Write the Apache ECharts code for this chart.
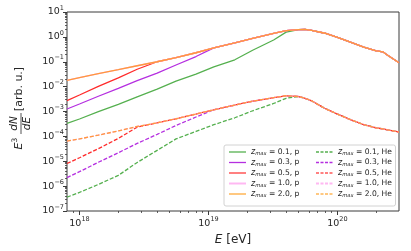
<!DOCTYPE html>
<html><head><meta charset="utf-8">
<script src="https://cdn.jsdelivr.net/npm/echarts@6/dist/echarts.min.js"></script>
<style>html,body{margin:0;padding:0;background:#fff}#c{width:411px;height:251px}</style>
</head><body><div id="c"></div>
<script>
// Energy grid [eV]
const E_EV = [8e17, 1e18, 1.4e18, 2e18, 2.8e18, 4e18, 5.6e18, 8e18, 1.1e19, 1.6e19, 2.2e19, 3.2e19, 4e19, 5e19, 5.6e19, 6.3e19, 8e19, 1e20, 1.26e20, 1.6e20, 2e20, 2.25e20, 2.4e20, 3e20];
// protons
const P_01 = [3.3e-4, 5.0e-4, 9.8e-4, 1.95e-3, 3.9e-3, 7.9e-3, 1.66e-2, 3.2e-2, 6.2e-2, 0.12, 0.29, 0.75, 1.55, 1.95, 2.0, 1.82, 1.4, 0.955, 0.61, 0.39, 0.275, 0.25, 0.195, 0.091];
const P_03 = [1.26e-3, 2.0e-3, 4.1e-3, 8.5e-3, 1.74e-2, 3.5e-2, 7.4e-2, 0.162, 0.36, 0.575, 0.87, 1.38, 1.78, 1.95, 2.0, 1.82, 1.4, 0.955, 0.61, 0.39, 0.275, 0.25, 0.195, 0.091];
const P_05 = [2.75e-3, 4.6e-3, 1.02e-2, 2.24e-2, 5.0e-2, 0.10, 0.148, 0.23, 0.36, 0.575, 0.87, 1.38, 1.78, 1.95, 2.0, 1.82, 1.4, 0.955, 0.61, 0.39, 0.275, 0.25, 0.195, 0.091];
const P_10 = [1.8e-2, 2.3e-2, 3.3e-2, 4.8e-2, 6.9e-2, 0.10, 0.148, 0.23, 0.36, 0.575, 0.87, 1.38, 1.78, 1.95, 2.0, 1.82, 1.4, 0.955, 0.61, 0.39, 0.275, 0.25, 0.195, 0.091];
const P_20 = [1.8e-2, 2.3e-2, 3.3e-2, 4.8e-2, 6.9e-2, 0.10, 0.148, 0.23, 0.36, 0.575, 0.87, 1.38, 1.78, 1.95, 2.0, 1.82, 1.4, 0.955, 0.61, 0.39, 0.275, 0.25, 0.195, 0.091];
// helium
const HE_01 = [3.6e-7, 5.6e-7, 1.17e-6, 2.7e-6, 8.9e-6, 2.75e-5, 7.9e-5, 1.58e-4, 2.95e-4, 5.6e-4, 1.07e-3, 2.1e-3, 3.4e-3, 4.0e-3, 3.4e-3, 2.7e-3, 1.32e-3, 7.9e-4, 4.7e-4, 2.95e-4, 2.2e-4, 2.0e-4, 1.86e-4, 1.5e-4];
const HE_03 = [2.2e-6, 3.8e-6, 9.1e-6, 2.2e-5, 5.2e-5, 1.2e-4, 2.75e-4, 6.0e-4, 1.17e-3, 1.82e-3, 2.6e-3, 3.6e-3, 4.3e-3, 4.0e-3, 3.4e-3, 2.7e-3, 1.32e-3, 7.9e-4, 4.7e-4, 2.95e-4, 2.2e-4, 2.0e-4, 1.86e-4, 1.5e-4];
const HE_05 = [8.1e-6, 1.38e-5, 3.2e-5, 8.3e-5, 2.35e-4, 3.5e-4, 5.1e-4, 7.9e-4, 1.17e-3, 1.82e-3, 2.6e-3, 3.6e-3, 4.3e-3, 4.0e-3, 3.4e-3, 2.7e-3, 1.32e-3, 7.9e-4, 4.7e-4, 2.95e-4, 2.2e-4, 2.0e-4, 1.86e-4, 1.5e-4];
const HE_10 = [6.5e-5, 7.9e-5, 1.12e-4, 1.66e-4, 2.5e-4, 3.5e-4, 5.1e-4, 7.9e-4, 1.17e-3, 1.82e-3, 2.6e-3, 3.6e-3, 4.3e-3, 4.0e-3, 3.4e-3, 2.7e-3, 1.32e-3, 7.9e-4, 4.7e-4, 2.95e-4, 2.2e-4, 2.0e-4, 1.86e-4, 1.5e-4];
const HE_20 = [6.5e-5, 7.9e-5, 1.12e-4, 1.66e-4, 2.5e-4, 3.5e-4, 5.1e-4, 7.9e-4, 1.17e-3, 1.82e-3, 2.6e-3, 3.6e-3, 4.3e-3, 4.0e-3, 3.4e-3, 2.7e-3, 1.32e-3, 7.9e-4, 4.7e-4, 2.95e-4, 2.2e-4, 2.0e-4, 1.86e-4, 1.5e-4];

const Z_LABELS = ['0.1', '0.3', '0.5', '1.0', '2.0'];
const X_MAJOR = [1e18, 1e19, 1e20];
const X_MINOR = [9e17, 2e18, 3e18, 4e18, 5e18, 6e18, 7e18, 8e18, 9e18, 2e19, 3e19, 4e19, 5e19, 6e19, 7e19, 8e19, 9e19, 2e20];
const Y_MAJOR = [1e-7, 1e-6, 1e-5, 1e-4, 1e-3, 1e-2, 1e-1, 1, 10];
const Y_MINOR = [];
for (let e = -7; e < 1; e++) for (let m = 2; m <= 9; m++) Y_MINOR.push(m * Math.pow(10, e));

const COLORS = ['#55b04f', '#b52fe0', '#ff2b2b', '#ffa6ef', '#ff9a3a'];
const LEG_COLORS = ['#55b04f', '#b52fe0', '#ff8080', '#ffb8f2', '#ffc880'];
const P_SETS = [P_01, P_03, P_05, P_10, P_20];
const HE_SETS = [HE_01, HE_03, HE_05, HE_10, HE_20];

const FONT = 'DejaVu Sans';
const TXT = '#262626';
const NOSYM = { color: 'rgba(0,0,0,0)', borderColor: 'rgba(0,0,0,0)', borderWidth: 0, opacity: 0 };

function pairs(arr) { return E_EV.map((e, i) => [e, arr[i]]); }
function pow10Label(v) {
  const e = Math.round(Math.log10(v));
  return '{b|10}{p|' + (e < 0 ? '\u2212' + (-e) : String(e)) + '}';
}
const tickRich = {
  b: { fontFamily: FONT, fontSize: 9.5, color: TXT, lineHeight: 15 },
  p: { fontFamily: FONT, fontSize: 6.5, color: TXT, verticalAlign: 'top', lineHeight: 8 }
};

const series = [];
const pNames = [], heNames = [];
Z_LABELS.forEach((z, k) => {
  const nm = z + ', p';
  pNames.push({ name: nm, itemStyle: NOSYM, lineStyle: { color: LEG_COLORS[k], width: k >= 2 ? 2 : 1.3, type: 'solid' } });
  series.push({ name: nm, type: 'line', data: pairs(P_SETS[k]), showSymbol: false, symbol: 'none',
    lineStyle: { color: COLORS[k], width: 1.3 }, itemStyle: { color: COLORS[k] }, z: 2 });
});
Z_LABELS.forEach((z, k) => {
  const nm = z + ', He';
  heNames.push({ name: nm, itemStyle: NOSYM, lineStyle: { color: LEG_COLORS[k], width: k >= 2 ? 2 : 1.3, type: [3, 1.5] } });
  series.push({ name: nm, type: 'line', data: pairs(HE_SETS[k]), showSymbol: false, symbol: 'none',
    lineStyle: { color: COLORS[k], width: 1.3, type: [4, 1.8] }, itemStyle: { color: COLORS[k] }, z: 2 });
});

const legRich = {
  z: { fontFamily: FONT, fontStyle: 'italic', fontSize: 8, color: TXT, lineHeight: 9 },
  s: { fontFamily: FONT, fontStyle: 'italic', fontSize: 5.2, color: TXT, verticalAlign: 'bottom', lineHeight: 6 },
  t: { fontFamily: FONT, fontSize: 7.6, color: TXT, lineHeight: 9 }
};
function legFmt(n) { return '{z|z}{s|max}{t| = ' + n + '}'; }
function legend(data, left) {
  return { data: data, orient: 'vertical', left: left, top: 148, padding: 0, itemGap: 2,
    itemWidth: 17, itemHeight: 9, selectedMode: false, formatter: legFmt,
    textStyle: { fontFamily: FONT, fontSize: 7.6, color: TXT, rich: legRich }, z: 10 };
}

const chart = echarts.init(document.getElementById('c'), null, { renderer: 'canvas' });
chart.setOption({
  animation: false,
  backgroundColor: '#fff',
  grid: { left: 67, right: 12, top: 12, bottom: 40, show: true, borderColor: '#3a3a3a', borderWidth: 1, backgroundColor: 'transparent' },
  xAxis: [
    { type: 'log', logBase: 10, min: 8e17, max: 3e20, position: 'bottom',
      axisLine: { show: false }, splitLine: { show: false },
      axisTick: { show: true, length: 4, customValues: X_MAJOR, lineStyle: { color: '#3a3a3a', width: 1 } },
      axisLabel: { customValues: X_MAJOR, formatter: pow10Label, rich: tickRich, margin: 5 },
      name: '{i|E} [eV]', nameLocation: 'middle', nameGap: 20,
      nameTextStyle: { fontFamily: FONT, fontSize: 12, color: TXT, rich: { i: { fontFamily: FONT, fontStyle: 'italic', fontSize: 12, color: TXT } } } },
    { type: 'log', logBase: 10, min: 8e17, max: 3e20, position: 'bottom', gridIndex: 0,
      axisLine: { show: false }, splitLine: { show: false }, axisLabel: { show: false },
      axisTick: { show: true, length: 2, customValues: X_MINOR, lineStyle: { color: '#3a3a3a', width: 0.8 } } }
  ],
  yAxis: [
    { type: 'log', logBase: 10, min: 1e-7, max: 10, position: 'left',
      axisLine: { show: false }, splitLine: { show: false },
      axisTick: { show: true, length: 4, customValues: Y_MAJOR, lineStyle: { color: '#3a3a3a', width: 1 } },
      axisLabel: { customValues: Y_MAJOR, formatter: pow10Label, rich: tickRich, margin: 3 } },
    { type: 'log', logBase: 10, min: 1e-7, max: 10, position: 'left', gridIndex: 0,
      axisLine: { show: false }, splitLine: { show: false }, axisLabel: { show: false },
      axisTick: { show: true, length: 2, customValues: Y_MINOR, lineStyle: { color: '#3a3a3a', width: 0.8 } } }
  ],
  legend: [legend(pNames, 228), legend(heNames, 315)],
  graphic: [
    { type: 'rect', z: 5, shape: { x: 224, y: 145, width: 171.5, height: 61, r: 2 },
      style: { fill: 'rgba(255,255,255,0.85)', stroke: '#d2d2d2', lineWidth: 1 } },
    { type: 'group', x: 0, y: 0, rotation: Math.PI / 2, z: 5, children: [
      { type: 'text', x: -146, y: 19, style: { text: 'E', font: 'italic 11px "DejaVu Sans"', fill: TXT, align: 'center', verticalAlign: 'middle' } },
      { type: 'text', x: -140, y: 15.5, style: { text: '3', font: '7.5px "DejaVu Sans"', fill: TXT, align: 'center', verticalAlign: 'middle' } },
      { type: 'text', x: -123.5, y: 14.5, style: { text: 'dN', font: 'italic 10.5px "DejaVu Sans"', fill: TXT, align: 'center', verticalAlign: 'middle' } },
      { type: 'line', shape: { x1: -134, y1: 21, x2: -113, y2: 21 }, style: { stroke: TXT, lineWidth: 0.8 } },
      { type: 'text', x: -123.5, y: 27.5, style: { text: 'dE', font: 'italic 10.5px "DejaVu Sans"', fill: TXT, align: 'center', verticalAlign: 'middle' } },
      { type: 'text', x: -89, y: 19, style: { text: '[arb. u.]', font: '11px "DejaVu Sans"', fill: TXT, align: 'center', verticalAlign: 'middle' } }
    ] }
  ],
  series: series
});
</script></body></html>
